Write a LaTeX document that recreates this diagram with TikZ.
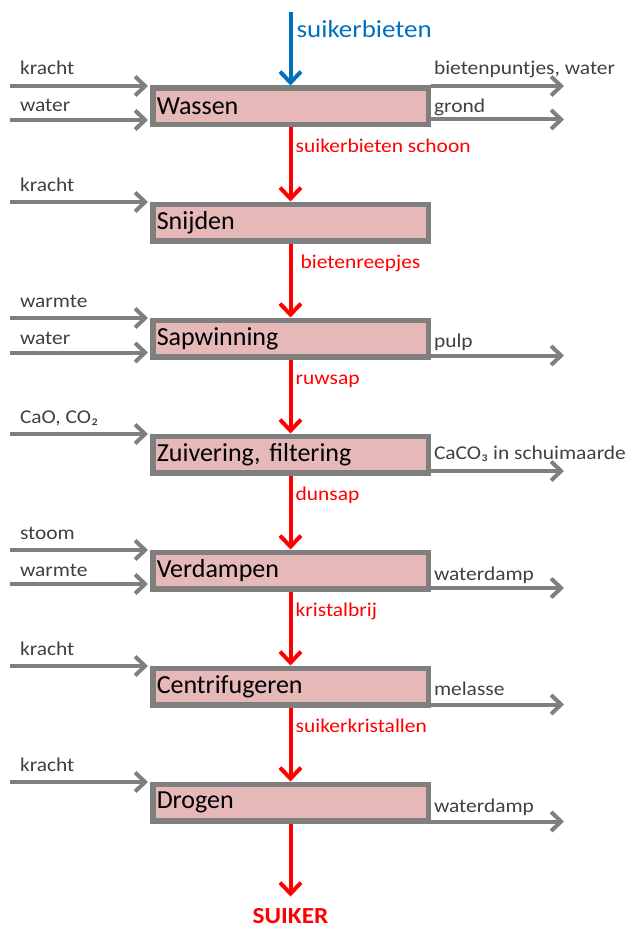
\documentclass[tikz,border=0pt]{standalone}
\usepackage{fontspec}
\setmainfont{Carlito}
\newfontfamily\breed{Carlito}[FakeStretch=1.1]
\usetikzlibrary{positioning, arrows.meta}
\definecolor{kader}{HTML}{7F7F7F}
\definecolor{vulling}{HTML}{E6B9B8}
\definecolor{tekst}{HTML}{404040}
\definecolor{rood}{HTML}{FF0000}
\definecolor{blauw}{HTML}{0070C0}

\begin{document}
\begin{tikzpicture}[x=1pt, y=1pt,
     node distance = 74pt and 3pt,
         stap/.style = {rectangle, draw=kader, line width=5.5pt, fill=vulling,
                        minimum width=275.5pt, minimum height=36.5pt, text width=267.5pt,
                        inner xsep=4pt, align=left, font=\fontsize{26}{28}\selectfont},
       invoer/.style = {draw=kader, line width=4pt, -{Straight Barb[length=10pt,width=19pt]}},
       stroom/.style = {draw=rood, line width=4pt, -{Straight Barb[length=11pt,width=21pt]}},
     lblgrijs/.style = {anchor=base west, inner sep=0pt, text=tekst, font=\breed\fontsize{19.5}{21}\selectfont},
      lblrood/.style = {anchor=base west, inner sep=0pt, text=rood, font=\breed\fontsize{19.5}{21}\selectfont}
                        ]
\useasboundingbox (0,0) rectangle (626,-928);

% stappen
\node (wassen)        [stap] at (290.5,-106.5) {Wassen};
\node (snijden)       [stap, below=of wassen] {Snijden};
\node (sapwinning)    [stap, below=of snijden] {Sapwinning};
\node (zuivering)     [stap, below=of sapwinning] {Zuivering, filtering};
\node (verdampen)     [stap, below=of zuivering] {Verdampen};
\node (centrifugeren) [stap, below=of verdampen] {Centrifugeren};
\node (drogen)        [stap, below=of centrifugeren] {Drogen};

% grondstof en product
\coordinate [above=73pt of wassen.north] (bieten);
\coordinate [below=73pt of drogen.south] (eind);
\draw[draw=blauw, line width=4pt, -{Straight Barb[length=11pt,width=21pt]}] (bieten) -- (wassen.north);
\node (lbieten) [right=6pt of bieten, inner sep=0pt, anchor=base west, yshift=-25pt, text=blauw,
                 font=\breed\fontsize{24.5}{26}\selectfont] {suikerbieten};
\draw[stroom] (drogen.south) -- (eind);
\node (suiker) [below=26.5pt of eind, anchor=base, inner sep=0pt, text=rood,
                font=\breed\fontsize{23}{25}\selectfont\bfseries] {SUIKER};

% tussenproducten
\draw[stroom] (wassen.south) -- (snijden.north);
\draw[stroom] (snijden.south) -- (sapwinning.north);
\draw[stroom] (sapwinning.south) -- (zuivering.north);
\draw[stroom] (zuivering.south) -- (verdampen.north);
\draw[stroom] (verdampen.south) -- (centrifugeren.north);
\draw[stroom] (centrifugeren.south) -- (drogen.north);
\node (lschoon)   [right=5pt of wassen.south, lblrood, yshift=-25pt] {suikerbieten schoon};
\node (lreepjes)  [right=10pt of snijden.south, lblrood, yshift=-25pt] {bietenreepjes};
\node (lruwsap)   [right=5pt of sapwinning.south, lblrood, yshift=-25pt] {ruwsap};
\node (ldunsap)   [right=5pt of zuivering.south, lblrood, yshift=-25pt] {dunsap};
\node (lbrij)     [right=5pt of verdampen.south, lblrood, yshift=-25pt] {kristalbrij};
\node (lkristal)  [right=5pt of centrifugeren.south, lblrood, yshift=-25pt] {suikerkristallen};

% invoer links
\draw[invoer] ([shift={(-140pt,20.5pt)}]wassen.west) node[lblgrijs, xshift=8pt, yshift=11pt] (lkracht1) {kracht}
              -- ([shift={(-2pt,20.5pt)}]wassen.west);
\draw[invoer] ([shift={(-140pt,-13.5pt)}]wassen.west) node[lblgrijs, xshift=8pt, yshift=8pt] (lwater1) {water}
              -- ([shift={(-2pt,-13.5pt)}]wassen.west);
\draw[invoer] ([shift={(-140pt,20.5pt)}]snijden.west) node[lblgrijs, xshift=8pt, yshift=11pt] (lkracht2) {kracht}
              -- ([shift={(-2pt,20.5pt)}]snijden.west);
\draw[invoer] ([shift={(-140pt,20.5pt)}]sapwinning.west) node[lblgrijs, xshift=8pt, yshift=11pt] (lwarmte1) {warmte}
              -- ([shift={(-2pt,20.5pt)}]sapwinning.west);
\draw[invoer] ([shift={(-140pt,-14pt)}]sapwinning.west) node[lblgrijs, xshift=8pt, yshift=8pt] (lwater2) {water}
              -- ([shift={(-2pt,-14pt)}]sapwinning.west);
\draw[invoer] ([shift={(-140pt,20.5pt)}]zuivering.west) node[lblgrijs, xshift=8pt, yshift=11pt] (lcao) {CaO, CO₂}
              -- ([shift={(-2pt,20.5pt)}]zuivering.west);
\draw[invoer] ([shift={(-140pt,20.5pt)}]verdampen.west) node[lblgrijs, xshift=8pt, yshift=11pt] (lstoom) {stoom}
              -- ([shift={(-2pt,20.5pt)}]verdampen.west);
\draw[invoer] ([shift={(-140pt,-13.5pt)}]verdampen.west) node[lblgrijs, xshift=8pt, yshift=8pt] (lwarmte2) {warmte}
              -- ([shift={(-2pt,-13.5pt)}]verdampen.west);
\draw[invoer] ([shift={(-140pt,20.5pt)}]centrifugeren.west) node[lblgrijs, xshift=8pt, yshift=11pt] (lkracht3) {kracht}
              -- ([shift={(-2pt,20.5pt)}]centrifugeren.west);
\draw[invoer] ([shift={(-140pt,20.5pt)}]drogen.west) node[lblgrijs, xshift=8pt, yshift=11pt] (lkracht4) {kracht}
              -- ([shift={(-2pt,20.5pt)}]drogen.west);

% uitvoer rechts
\draw[invoer] ([yshift=20.5pt]wassen.east) node[lblgrijs, xshift=1pt, yshift=11pt] (lpuntjes) {bietenpuntjes, water}
              -- ([shift={(133pt,20.5pt)}]wassen.east);
\draw[invoer] ([yshift=-13pt]wassen.east) node[lblgrijs, xshift=1pt, yshift=7pt] (lgrond) {grond}
              -- ([shift={(133pt,-13pt)}]wassen.east);
\draw[invoer] ([yshift=-17pt]sapwinning.east) node[lblgrijs, xshift=1pt, yshift=8pt] (lpulp) {pulp}
              -- ([shift={(133pt,-17pt)}]sapwinning.east);
\draw[invoer] ([yshift=-16.5pt]zuivering.east) node[lblgrijs, xshift=1pt, yshift=12pt] (lcaco) {CaCO₃ in schuimaarde}
              -- ([shift={(133pt,-16.5pt)}]zuivering.east);
\draw[invoer] ([yshift=-17.5pt]verdampen.east) node[lblgrijs, xshift=1pt, yshift=8pt] (ldamp1) {waterdamp}
              -- ([shift={(133pt,-17.5pt)}]verdampen.east);
\draw[invoer] ([yshift=-18pt]centrifugeren.east) node[lblgrijs, xshift=1pt, yshift=9pt] (lmelasse) {melasse}
              -- ([shift={(133pt,-18pt)}]centrifugeren.east);
\draw[invoer] ([yshift=-19pt]drogen.east) node[lblgrijs, xshift=1pt, yshift=9pt] (ldamp2) {waterdamp}
              -- ([shift={(133pt,-19pt)}]drogen.east);
\end{tikzpicture}
\end{document}
